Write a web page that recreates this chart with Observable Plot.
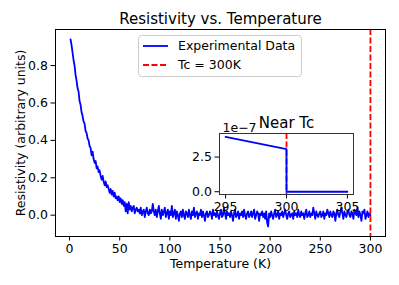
<!DOCTYPE html>
<html><head><meta charset="utf-8">
<script src="https://cdn.jsdelivr.net/npm/d3@7"></script>
<script src="https://cdn.jsdelivr.net/npm/@observablehq/plot@0.6"></script>
<style>
body{margin:0;background:#fff;font-family:"DejaVu Sans",sans-serif;}
#wrap{position:relative;width:399px;height:285px;overflow:hidden;}
#wrap > *{position:absolute;}
</style></head><body><div id="wrap"></div>
<script>
// ---- data ----
const tStart = 1; // temperature of first sample (K), 1 K steps
const resistivity = [
 0.94, 0.91, 0.87, 0.83, 0.80, 0.75, 0.72, 0.68, 0.66, 0.61,
 0.59, 0.55, 0.53, 0.50, 0.49, 0.45, 0.44, 0.41, 0.40, 0.37,
 0.36, 0.32, 0.34, 0.30, 0.28, 0.29, 0.25, 0.26, 0.23, 0.24,
 0.21, 0.19, 0.21, 0.18, 0.16, 0.18, 0.15, 0.16, 0.14, 0.12,
 0.14, 0.11, 0.13, 0.10, 0.12, 0.09, 0.10, 0.08, 0.10, 0.07,
 0.09, 0.06, 0.08, 0.05, 0.07, 0.02, 0.06, 0.01, 0.07, 0.03,
 0.05, 0.02, 0.04, 0.05, 0.01, 0.03, 0.04, 0.02, 0.03, 0.01,
 0.04, 0.00, 0.02, 0.03, -0.01, 0.02, 0.04, 0.01, 0.00, 0.03,
 0.01, 0.02, 0.06, 0.02, 0.00, 0.03, -0.01, 0.02, 0.05, 0.01,
 -0.02, 0.03, 0.00, 0.02, 0.04, -0.01, 0.01, 0.03, -0.02, 0.02,
 0.00, 0.05, -0.01, 0.01, 0.03, -0.02, 0.02, 0.00, -0.03, 0.01,
 0.02, -0.01, 0.03, 0.00, -0.02, 0.02, 0.01, -0.01, 0.03, 0.00,
 -0.02, 0.02, 0.00, 0.04, -0.01, 0.01, 0.02, -0.02, 0.01, 0.00,
 0.03, -0.01, 0.02, 0.00, -0.03, 0.01, 0.02, -0.01, 0.00, 0.02,
 0.01, -0.02, 0.03, 0.00, 0.01, -0.01, 0.02, 0.00, -0.02, 0.01,
 0.03, -0.01, 0.00, 0.04, 0.01, -0.02, 0.02, 0.00, 0.01, -0.01,
 0.02, 0.00, -0.03, 0.01, 0.03, -0.01, 0.00, 0.02, -0.02, 0.01,
 0.00, 0.02, -0.01, 0.03, 0.00, -0.02, 0.01, 0.02, -0.01, 0.00,
 0.02, -0.01, 0.01, 0.03, -0.02, 0.00, 0.02, 0.01, -0.03, 0.01,
 0.00, 0.02, -0.01, 0.01, -0.02, 0.02, -0.04, -0.06, 0.01, -0.01,
 0.02, 0.00, -0.02, 0.01, 0.03, -0.01, 0.00, 0.02, -0.02, 0.01,
 0.00, 0.02, -0.01, 0.01, 0.03, 0.00, -0.02, 0.01, 0.02, -0.01,
 0.00, 0.01, -0.02, 0.02, 0.00, 0.01, -0.01, 0.03, 0.00, -0.01,
 0.02, 0.00, 0.01, -0.02, 0.01, 0.03, -0.01, 0.00, 0.02, -0.01,
 0.01, 0.00, 0.04, 0.01, -0.02, 0.02, 0.00, -0.01, 0.01, 0.02,
 -0.01, 0.00, 0.02, -0.02, 0.01, 0.00, 0.03, 0.01, -0.01, 0.02,
 0.00, -0.01, 0.02, 0.01, -0.03, 0.01, 0.03, 0.00, -0.01, 0.02,
 0.04, 0.01, -0.02, 0.02, 0.00, -0.01, 0.02, 0.03, 0.00, -0.01,
 0.02, 0.01, -0.02, 0.03, 0.01, 0.00, 0.04, -0.01, 0.02, 0.00,
 -0.03, 0.02, 0.01, 0.03, -0.02, 0.00, 0.02, -0.01, 0.01, 0.00
];
const tc = 300;
const xTicks = [0, 50, 100, 150, 200, 250, 300];
const yTicks = [0, 0.2, 0.4, 0.6, 0.8];
const insetT = [295, 300, 300, 305];
const insetR = [3.95e-7, 3.08e-7, 0, 0];
const insetXTicks = [295, 300, 305];
const insetYTicks = [0, 2.5e-7];
const legendLabels = ["Experimental Data", "Tc = 300K"];
const legendColors = ["#0000ff", "#ff0000"];
const legendDash = [null, "6,2.5"];
const titleText = "Resistivity vs. Temperature";
const xLabel = "Temperature (K)";
const yLabel = "Resistivity (arbitrary units)";
const insetTitle = "Near Tc";
const insetOffset = "1e\u22127";

// ---- build ----
const data = resistivity.map((r, i) => ({T: tStart + i, r}));
const insetData = insetT.map((T, i) => ({T, r: insetR[i]}));
const FONT = "DejaVu Sans";
const baseStyle = {fontFamily: FONT, fontSize: "12.5px", color: "black", background: "transparent", overflow: "visible"};

const main = Plot.plot({
  width: 399, height: 285,
  marginLeft: 55, marginRight: 14, marginTop: 29, marginBottom: 49,
  style: baseStyle,
  x: {domain: [-14, 315], ticks: xTicks, tickSize: 4.5, tickPadding: 3, label: null, tickFormat: d3.format("d")},
  y: {domain: [-0.114, 0.993], ticks: yTicks, tickSize: 4.5, tickPadding: 3, label: null, tickFormat: d3.format(".1f")},
  marks: [
    Plot.line(data, {x: "T", y: "r", stroke: legendColors[0], strokeWidth: 1.8}),
    Plot.ruleX([tc], {stroke: legendColors[1], strokeWidth: 1.8, strokeDasharray: legendDash[1]}),
    Plot.frame({stroke: "black", strokeWidth: 1}),
    Plot.text([titleText], {frameAnchor: "top", dy: -10, lineAnchor: "middle", textAnchor: "middle", fontSize: 15, text: d => d}),
    Plot.text([xLabel], {frameAnchor: "bottom", dy: 27, lineAnchor: "middle", textAnchor: "middle", fontSize: 12.5, text: d => d}),
    Plot.text([yLabel], {frameAnchor: "left", dx: -35, rotate: -90, lineAnchor: "middle", textAnchor: "middle", fontSize: 12.5, text: d => d})
  ]
});
main.style.left = "0px"; main.style.top = "0px";

const inset = Plot.plot({
  width: 175, height: 115,
  marginLeft: 29, marginRight: 12, marginTop: 25, marginBottom: 29,
  style: baseStyle,
  x: {domain: [294.5, 305.5], ticks: insetXTicks, tickSize: 4.5, tickPadding: 3, label: null, tickFormat: d3.format("d")},
  y: {domain: [-0.2e-7, 4.2e-7], ticks: insetYTicks, tickSize: 4.5, tickPadding: 3, label: null, tickFormat: d => (d / 1e-7).toFixed(1)},
  marks: [
    Plot.frame({fill: "white"}),
    Plot.ruleX([tc], {stroke: legendColors[1], strokeWidth: 1.8, strokeDasharray: legendDash[1]}),
    Plot.line(insetData, {x: "T", y: "r", stroke: legendColors[0], strokeWidth: 1.8}),
    Plot.frame({stroke: "#333", strokeWidth: 1}),
    Plot.text([insetTitle], {frameAnchor: "top", dy: -10, lineAnchor: "middle", textAnchor: "middle", fontSize: 15, text: d => d}),
    Plot.text([insetOffset], {frameAnchor: "top-left", dx: 3, dy: -2, lineAnchor: "bottom", textAnchor: "start", fontSize: 12.5, text: d => d})
  ]
});
inset.style.left = "190px"; inset.style.top = "108px";

// legend
const lg = d3.create("svg").attr("width", 166).attr("height", 44)
  .style("left", "137px").style("top", "34px").style("overflow", "visible");
lg.append("rect").attr("x", 1.5).attr("y", 1.5).attr("width", 163).attr("height", 41).attr("rx", 3)
  .attr("fill", "white").attr("fill-opacity", 0.8).attr("stroke", "#cccccc").attr("stroke-width", 1);
legendLabels.forEach((lab, i) => {
  const cy = 12 + i * 19;
  lg.append("line").attr("x1", 6).attr("x2", 31).attr("y1", cy).attr("y2", cy)
    .attr("stroke", legendColors[i]).attr("stroke-width", 1.8).attr("stroke-dasharray", legendDash[i]);
  lg.append("text").attr("x", 41).attr("y", cy).attr("dy", "0.35em")
    .attr("font-family", FONT).attr("font-size", 12.5).text(lab);
});

const wrap = document.getElementById("wrap");
wrap.append(main, lg.node(), inset);
</script></body></html>
